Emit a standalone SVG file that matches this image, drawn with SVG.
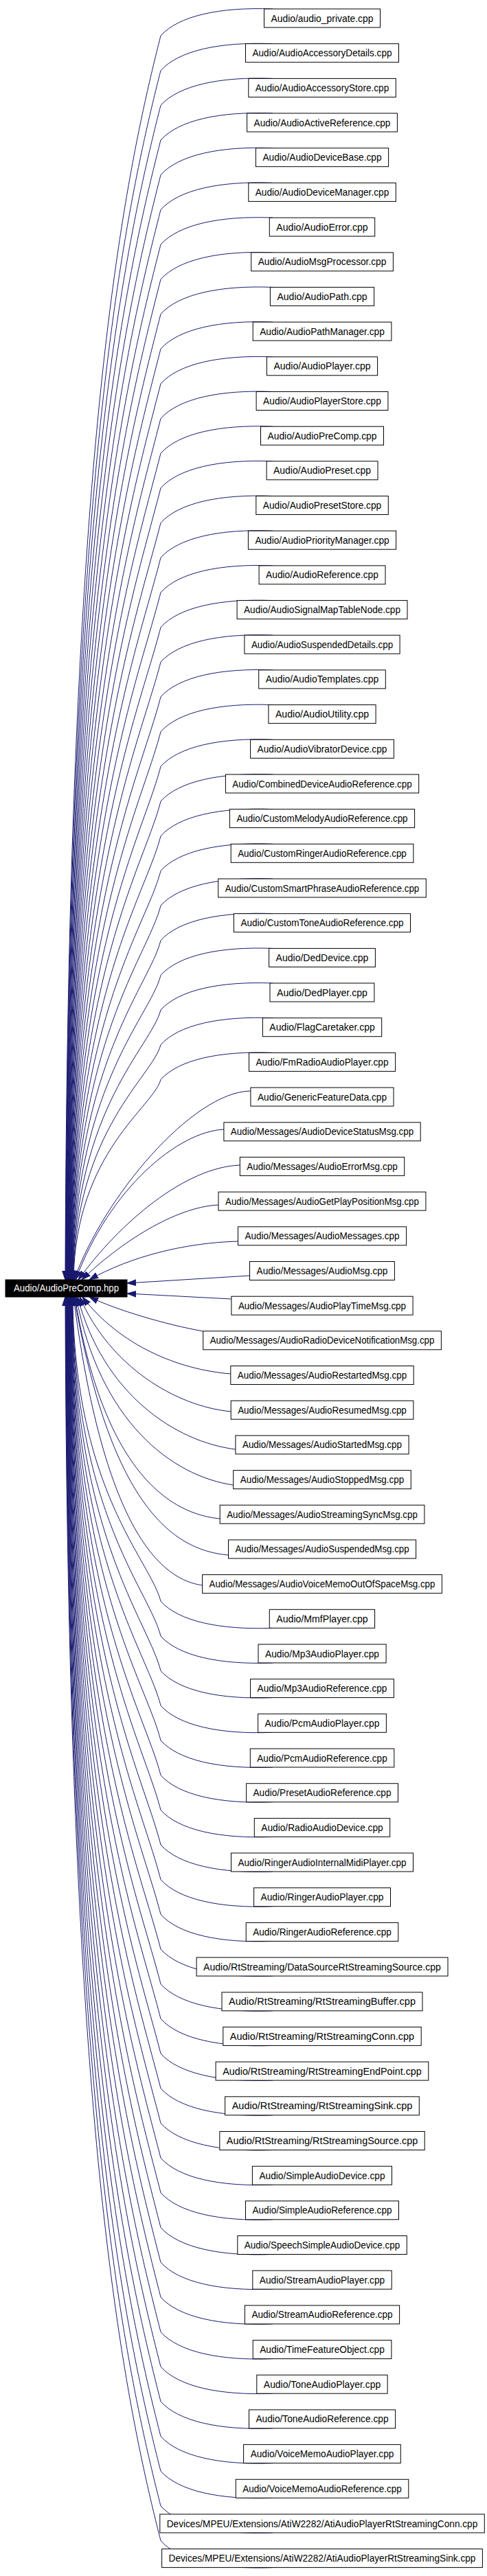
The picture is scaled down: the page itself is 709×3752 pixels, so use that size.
<svg xmlns="http://www.w3.org/2000/svg" width="709" height="3752" viewBox="0 0 709 3752">
<style>
.nd rect{fill:#fff;stroke:#000;stroke-width:1}
.nd text{font-family:"Liberation Sans",Arial,Helvetica,sans-serif;font-size:14px;fill:#000;text-anchor:middle}
.mn rect{fill:#000;stroke:#000;stroke-width:1}
.mn text{font-family:"Liberation Sans",Arial,Helvetica,sans-serif;font-size:14px;fill:#fff;text-anchor:middle}
.e path{fill:none;stroke:#191970;stroke-width:1;marker-end:url(#ah)}
</style>
<defs>
<marker id="ah" markerUnits="userSpaceOnUse" markerWidth="14" markerHeight="10" viewBox="0 -5 14 10" refX="13" refY="0" orient="auto">
<path d="M0,-4.3 L13,0 L0,4.3 z" fill="#191970" stroke="#191970" stroke-width="1"/>
</marker>
</defs>
<rect x="0" y="0" width="709" height="3752" fill="#fff"/>
<g id="edges" class="e">
<path d="M397,13 C320,10 260,23 234,52 C170.6,300.2 98,704.3 95,1864"/>
<path d="M397,63.7 C320,60.7 260,73.7 234,102.7 C172.4,344 98.4,736.8 95.4,1864"/>
<path d="M397,114.4 C320,111.4 260,124.4 234,153.4 C174.1,387.8 98.8,769.2 95.8,1864"/>
<path d="M397,165 C320,162 260,175 234,204 C175.9,431.4 99.2,801.6 96.2,1864"/>
<path d="M397,215.7 C320,212.7 260,225.7 234,254.7 C177.7,475.2 99.6,834.1 96.6,1864"/>
<path d="M397,266.4 C320,263.4 260,276.4 234,305.4 C179.4,518.9 100,866.5 97,1864"/>
<path d="M397,317.1 C320,314.1 260,327.1 234,356.1 C181.2,562.7 100.4,898.9 97.4,1864"/>
<path d="M397,367.8 C320,364.8 260,377.8 234,406.8 C183,606.4 100.8,931.4 97.8,1864"/>
<path d="M397,418.4 C320,415.4 260,428.4 234,457.4 C184.8,650.1 101.2,963.8 98.2,1864"/>
<path d="M397,469.1 C320,466.1 260,479.1 234,508.1 C186.5,693.9 101.6,996.2 98.6,1864"/>
<path d="M397,519.8 C320,516.8 260,529.8 234,558.8 C188.3,737.6 102,1028.7 99,1864"/>
<path d="M397,570.5 C320,567.5 260,580.5 234,609.5 C190.1,781.4 102.4,1061.1 99.4,1864"/>
<path d="M397,621.2 C320,618.2 260,631.2 234,660.2 C191.9,825.1 102.8,1093.5 99.8,1864"/>
<path d="M397,671.8 C320,668.8 260,681.8 234,710.8 C193.6,868.8 103.2,1126 100.2,1864"/>
<path d="M397,722.5 C320,719.5 260,732.5 234,761.5 C195.4,912.5 103.6,1158.4 100.6,1864"/>
<path d="M397,773.2 C320,770.2 260,783.2 234,812.2 C197.2,956.3 104,1190.8 101,1864"/>
<path d="M397,823.9 C320,820.9 260,833.9 234,862.9 C199,1000.1 104.4,1223.3 101.4,1864"/>
<path d="M397,874.6 C320,871.6 260,884.6 234,913.6 C200.7,1043.8 104.8,1255.7 101.8,1864"/>
<path d="M397,925.2 C320,922.2 260,935.2 234,964.2 C202.5,1087.5 105.2,1288.2 102.2,1864"/>
<path d="M397,975.9 C320,972.9 260,985.9 234,1014.9 C204.3,1131.2 105.6,1320.6 102.6,1864"/>
<path d="M397,1026.6 C320,1023.6 260,1036.6 234,1065.6 C206.1,1175 106,1353 103,1864"/>
<path d="M397,1077.3 C320,1074.3 260,1087.3 234,1116.3 C207.8,1218.7 106.4,1385.5 103.4,1864"/>
<path d="M397,1128 C320,1125 260,1138 234,1167 C209.6,1262.5 106.8,1417.9 103.8,1864"/>
<path d="M397,1178.6 C320,1175.6 260,1188.6 234,1217.6 C211.4,1306.2 107.2,1450.3 104.2,1864"/>
<path d="M397,1229.3 C320,1226.3 260,1239.3 234,1268.3 C213.2,1349.9 107.6,1482.8 104.6,1864"/>
<path d="M397,1280 C320,1277 260,1290 234,1319 C214.9,1393.7 108,1515.2 105,1864"/>
<path d="M397,1330.7 C320,1327.7 260,1340.7 234,1369.7 C216.7,1437.4 108.4,1547.6 105.4,1864"/>
<path d="M397,1381.4 C320,1378.4 260,1391.4 234,1420.4 C218.5,1481.2 108.8,1580.1 105.8,1864"/>
<path d="M397,1432 C320,1429 260,1442 234,1471 C220.2,1524.8 109.2,1612.5 106.2,1864"/>
<path d="M397,1482.7 C320,1479.7 260,1492.7 234,1521.7 C222,1568.6 109.6,1644.9 106.6,1864"/>
<path d="M397,1533.4 C320,1530.4 260,1543.4 234,1572.4 C223.8,1612.3 110,1677.4 107,1864"/>
<path d="M364.9,1589 C280,1590 150,1745 108,1864"/>
<path d="M325.9,1645 C260,1648 160,1730 110,1864"/>
<path d="M349.3,1697 C270,1700 175,1780 114,1864"/>
<path d="M318,1755 C255,1758 175,1810 119,1864"/>
<path d="M346.5,1808 C270,1810 190,1830 130,1864"/>
<path d="M363.5,1858 L185,1869"/>
<path d="M336.9,1892 L185,1884"/>
<path d="M295.7,1939 C240,1929 170,1908 130,1889"/>
<path d="M335.8,2001 C260,1995 175,1960 120,1889"/>
<path d="M336.2,2056 C255,2048 160,1990 116,1889"/>
<path d="M342.9,2111 C255,2100 150,2030 113,1889"/>
<path d="M339.7,2163 C250,2150 145,2070 111,1889"/>
<path d="M320.2,2212 C245,2205 150,2140 109,1889"/>
<path d="M332.5,2265 C250,2258 160,2190 108,1889"/>
<path d="M294.6,2309 C230,2300 150,2220 107,1889"/>
<path d="M397,2371.3 C320,2374.3 260,2361.3 234,2332.3 C218.5,2271.6 108.8,2172.7 105.8,1889"/>
<path d="M397,2422 C320,2425 260,2412 234,2383 C216.7,2315.3 108.4,2205.1 105.4,1889"/>
<path d="M397,2472.6 C320,2475.6 260,2462.6 234,2433.6 C214.9,2359 108,2237.6 105,1889"/>
<path d="M397,2523.3 C320,2526.3 260,2513.3 234,2484.3 C213.2,2402.7 107.6,2270 104.6,1889"/>
<path d="M397,2574 C320,2577 260,2564 234,2535 C211.4,2446.5 107.2,2302.4 104.2,1889"/>
<path d="M397,2624.7 C320,2627.7 260,2614.7 234,2585.7 C209.6,2490.3 106.8,2334.9 103.8,1889"/>
<path d="M397,2675.4 C320,2678.4 260,2665.4 234,2636.4 C207.8,2534 106.4,2367.3 103.4,1889"/>
<path d="M397,2726 C320,2729 260,2716 234,2687 C206.1,2577.7 106,2399.7 103,1889"/>
<path d="M397,2776.7 C320,2779.7 260,2766.7 234,2737.7 C204.3,2621.4 105.6,2432.2 102.6,1889"/>
<path d="M397,2827.4 C320,2830.4 260,2817.4 234,2788.4 C202.5,2665.2 105.2,2464.6 102.2,1889"/>
<path d="M397,2878.1 C320,2881.1 260,2868.1 234,2839.1 C200.7,2708.9 104.8,2497.1 101.8,1889"/>
<path d="M397,2928.8 C320,2931.8 260,2918.8 234,2889.8 C199,2752.7 104.4,2529.5 101.4,1889"/>
<path d="M397,2979.4 C320,2982.4 260,2969.4 234,2940.4 C197.2,2796.4 104,2561.9 101,1889"/>
<path d="M397,3030.1 C320,3033.1 260,3020.1 234,2991.1 C195.4,2840.1 103.6,2594.4 100.6,1889"/>
<path d="M397,3080.8 C320,3083.8 260,3070.8 234,3041.8 C193.7,2883.9 103.2,2626.8 100.2,1889"/>
<path d="M397,3131.5 C320,3134.5 260,3121.5 234,3092.5 C191.9,2927.6 102.8,2659.2 99.8,1889"/>
<path d="M397,3182.2 C320,3185.2 260,3172.2 234,3143.2 C190.1,2971.4 102.4,2691.7 99.4,1889"/>
<path d="M397,3232.8 C320,3235.8 260,3222.8 234,3193.8 C188.3,3015 102,2724.1 99,1889"/>
<path d="M397,3283.5 C320,3286.5 260,3273.5 234,3244.5 C186.6,3058.8 101.6,2756.5 98.6,1889"/>
<path d="M397,3334.2 C320,3337.2 260,3324.2 234,3295.2 C184.8,3102.6 101.2,2789 98.2,1889"/>
<path d="M397,3384.9 C320,3387.9 260,3374.9 234,3345.9 C183,3146.3 100.8,2821.4 97.8,1889"/>
<path d="M397,3435.6 C320,3438.6 260,3425.6 234,3396.6 C181.2,3190.1 100.4,2853.8 97.4,1889"/>
<path d="M397,3486.2 C320,3489.2 260,3476.2 234,3447.2 C179.5,3233.7 100,2886.3 97,1889"/>
<path d="M397,3536.9 C320,3539.9 260,3526.9 234,3497.9 C177.7,3277.5 99.6,2918.7 96.6,1889"/>
<path d="M397,3587.6 C320,3590.6 260,3577.6 234,3548.6 C175.9,3321.2 99.2,2951.1 96.2,1889"/>
<path d="M397,3638.3 C320,3641.3 260,3628.3 234,3599.3 C174.1,3365 98.8,2983.6 95.8,1889"/>
<path d="M397,3689 C320,3692 260,3679 234,3650 C172.4,3408.8 98.4,3016 95.4,1889"/>
<path d="M397,3739.6 C320,3742.6 260,3729.6 234,3700.6 C170.6,3452.4 98,3048.4 95,1889"/>
</g>
<g id="main" class="mn"><rect x="8" y="1864" width="177" height="25"/><text x="96.5" y="1881" textLength="153" lengthAdjust="spacingAndGlyphs">Audio/AudioPreComp.hpp</text></g>
<g id="n0" class="nd"><rect x="384.5" y="13" width="169" height="27"/><text x="469" y="31.5" textLength="149" lengthAdjust="spacingAndGlyphs">Audio/audio_private.cpp</text></g>
<g id="n1" class="nd"><rect x="357.5" y="63.7" width="223" height="27"/><text x="469" y="82.2" textLength="203" lengthAdjust="spacingAndGlyphs">Audio/AudioAccessoryDetails.cpp</text></g>
<g id="n2" class="nd"><rect x="361.8" y="114.4" width="214.5" height="27"/><text x="469" y="132.9" textLength="194.5" lengthAdjust="spacingAndGlyphs">Audio/AudioAccessoryStore.cpp</text></g>
<g id="n3" class="nd"><rect x="359.6" y="165" width="218.8" height="27"/><text x="469" y="183.5" textLength="198.8" lengthAdjust="spacingAndGlyphs">Audio/AudioActiveReference.cpp</text></g>
<g id="n4" class="nd"><rect x="372.4" y="215.7" width="193.2" height="27"/><text x="469" y="234.2" textLength="173.2" lengthAdjust="spacingAndGlyphs">Audio/AudioDeviceBase.cpp</text></g>
<g id="n5" class="nd"><rect x="361.8" y="266.4" width="214.5" height="27"/><text x="469" y="284.9" textLength="194.5" lengthAdjust="spacingAndGlyphs">Audio/AudioDeviceManager.cpp</text></g>
<g id="n6" class="nd"><rect x="392.3" y="317.1" width="153.4" height="27"/><text x="469" y="335.6" textLength="133.4" lengthAdjust="spacingAndGlyphs">Audio/AudioError.cpp</text></g>
<g id="n7" class="nd"><rect x="365.7" y="367.8" width="206.7" height="27"/><text x="469" y="386.3" textLength="186.7" lengthAdjust="spacingAndGlyphs">Audio/AudioMsgProcessor.cpp</text></g>
<g id="n8" class="nd"><rect x="393.4" y="418.4" width="151.2" height="27"/><text x="469" y="436.9" textLength="131.2" lengthAdjust="spacingAndGlyphs">Audio/AudioPath.cpp</text></g>
<g id="n9" class="nd"><rect x="368.2" y="469.1" width="201.7" height="27"/><text x="469" y="487.6" textLength="181.7" lengthAdjust="spacingAndGlyphs">Audio/AudioPathManager.cpp</text></g>
<g id="n10" class="nd"><rect x="388.4" y="519.8" width="161.2" height="27"/><text x="469" y="538.3" textLength="141.2" lengthAdjust="spacingAndGlyphs">Audio/AudioPlayer.cpp</text></g>
<g id="n11" class="nd"><rect x="373.1" y="570.5" width="191.8" height="27"/><text x="469" y="589" textLength="171.8" lengthAdjust="spacingAndGlyphs">Audio/AudioPlayerStore.cpp</text></g>
<g id="n12" class="nd"><rect x="379.5" y="621.2" width="179" height="27"/><text x="469" y="639.7" textLength="159" lengthAdjust="spacingAndGlyphs">Audio/AudioPreComp.cpp</text></g>
<g id="n13" class="nd"><rect x="388.1" y="671.8" width="161.9" height="27"/><text x="469" y="690.3" textLength="141.9" lengthAdjust="spacingAndGlyphs">Audio/AudioPreset.cpp</text></g>
<g id="n14" class="nd"><rect x="372.8" y="722.5" width="192.5" height="27"/><text x="469" y="741" textLength="172.5" lengthAdjust="spacingAndGlyphs">Audio/AudioPresetStore.cpp</text></g>
<g id="n15" class="nd"><rect x="361.4" y="773.2" width="215.2" height="27"/><text x="469" y="791.7" textLength="195.2" lengthAdjust="spacingAndGlyphs">Audio/AudioPriorityManager.cpp</text></g>
<g id="n16" class="nd"><rect x="377.1" y="823.9" width="183.9" height="27"/><text x="469" y="842.4" textLength="163.9" lengthAdjust="spacingAndGlyphs">Audio/AudioReference.cpp</text></g>
<g id="n17" class="nd"><rect x="345.1" y="874.6" width="247.9" height="27"/><text x="469" y="893.1" textLength="227.9" lengthAdjust="spacingAndGlyphs">Audio/AudioSignalMapTableNode.cpp</text></g>
<g id="n18" class="nd"><rect x="355.9" y="925.2" width="226.2" height="27"/><text x="469" y="943.7" textLength="206.2" lengthAdjust="spacingAndGlyphs">Audio/AudioSuspendedDetails.cpp</text></g>
<g id="n19" class="nd"><rect x="376.7" y="975.9" width="184.6" height="27"/><text x="469" y="994.4" textLength="164.6" lengthAdjust="spacingAndGlyphs">Audio/AudioTemplates.cpp</text></g>
<g id="n20" class="nd"><rect x="390.9" y="1026.6" width="156.2" height="27"/><text x="469" y="1045.1" textLength="136.2" lengthAdjust="spacingAndGlyphs">Audio/AudioUtility.cpp</text></g>
<g id="n21" class="nd"><rect x="364.6" y="1077.3" width="208.8" height="27"/><text x="469" y="1095.8" textLength="188.8" lengthAdjust="spacingAndGlyphs">Audio/AudioVibratorDevice.cpp</text></g>
<g id="n22" class="nd"><rect x="328.4" y="1128" width="281.3" height="27"/><text x="469" y="1146.5" textLength="261.3" lengthAdjust="spacingAndGlyphs">Audio/CombinedDeviceAudioReference.cpp</text></g>
<g id="n23" class="nd"><rect x="334.4" y="1178.6" width="269.2" height="27"/><text x="469" y="1197.1" textLength="249.2" lengthAdjust="spacingAndGlyphs">Audio/CustomMelodyAudioReference.cpp</text></g>
<g id="n24" class="nd"><rect x="336.2" y="1229.3" width="265.7" height="27"/><text x="469" y="1247.8" textLength="245.7" lengthAdjust="spacingAndGlyphs">Audio/CustomRingerAudioReference.cpp</text></g>
<g id="n25" class="nd"><rect x="317.7" y="1280" width="302.6" height="27"/><text x="469" y="1298.5" textLength="282.6" lengthAdjust="spacingAndGlyphs">Audio/CustomSmartPhraseAudioReference.cpp</text></g>
<g id="n26" class="nd"><rect x="340.4" y="1330.7" width="257.1" height="27"/><text x="469" y="1349.2" textLength="237.1" lengthAdjust="spacingAndGlyphs">Audio/CustomToneAudioReference.cpp</text></g>
<g id="n27" class="nd"><rect x="391.6" y="1381.4" width="154.8" height="27"/><text x="469" y="1399.9" textLength="134.8" lengthAdjust="spacingAndGlyphs">Audio/DedDevice.cpp</text></g>
<g id="n28" class="nd"><rect x="393" y="1432" width="151.9" height="27"/><text x="469" y="1450.5" textLength="131.9" lengthAdjust="spacingAndGlyphs">Audio/DedPlayer.cpp</text></g>
<g id="n29" class="nd"><rect x="382.4" y="1482.7" width="173.3" height="27"/><text x="469" y="1501.2" textLength="153.3" lengthAdjust="spacingAndGlyphs">Audio/FlagCaretaker.cpp</text></g>
<g id="n30" class="nd"><rect x="362.5" y="1533.4" width="213.1" height="27"/><text x="469" y="1551.9" textLength="193.1" lengthAdjust="spacingAndGlyphs">Audio/FmRadioAudioPlayer.cpp</text></g>
<g id="n31" class="nd"><rect x="364.9" y="1584.1" width="208.1" height="27"/><text x="469" y="1602.6" textLength="188.1" lengthAdjust="spacingAndGlyphs">Audio/GenericFeatureData.cpp</text></g>
<g id="n32" class="nd"><rect x="325.9" y="1634.8" width="286.3" height="27"/><text x="469" y="1653.3" textLength="266.3" lengthAdjust="spacingAndGlyphs">Audio/Messages/AudioDeviceStatusMsg.cpp</text></g>
<g id="n33" class="nd"><rect x="349.3" y="1685.4" width="239.4" height="27"/><text x="469" y="1703.9" textLength="219.4" lengthAdjust="spacingAndGlyphs">Audio/Messages/AudioErrorMsg.cpp</text></g>
<g id="n34" class="nd"><rect x="318" y="1736.1" width="301.9" height="27"/><text x="469" y="1754.6" textLength="281.9" lengthAdjust="spacingAndGlyphs">Audio/Messages/AudioGetPlayPositionMsg.cpp</text></g>
<g id="n35" class="nd"><rect x="346.5" y="1786.8" width="245.1" height="27"/><text x="469" y="1805.3" textLength="225.1" lengthAdjust="spacingAndGlyphs">Audio/Messages/AudioMessages.cpp</text></g>
<g id="n36" class="nd"><rect x="363.5" y="1837.5" width="210.9" height="27"/><text x="469" y="1856" textLength="190.9" lengthAdjust="spacingAndGlyphs">Audio/Messages/AudioMsg.cpp</text></g>
<g id="n37" class="nd"><rect x="336.9" y="1888.2" width="264.2" height="27"/><text x="469" y="1906.7" textLength="244.2" lengthAdjust="spacingAndGlyphs">Audio/Messages/AudioPlayTimeMsg.cpp</text></g>
<g id="n38" class="nd"><rect x="295.7" y="1938.8" width="346.7" height="27"/><text x="469" y="1957.3" textLength="326.7" lengthAdjust="spacingAndGlyphs">Audio/Messages/AudioRadioDeviceNotificationMsg.cpp</text></g>
<g id="n39" class="nd"><rect x="335.8" y="1989.5" width="266.4" height="27"/><text x="469" y="2008" textLength="246.4" lengthAdjust="spacingAndGlyphs">Audio/Messages/AudioRestartedMsg.cpp</text></g>
<g id="n40" class="nd"><rect x="336.2" y="2040.2" width="265.7" height="27"/><text x="469" y="2058.7" textLength="245.7" lengthAdjust="spacingAndGlyphs">Audio/Messages/AudioResumedMsg.cpp</text></g>
<g id="n41" class="nd"><rect x="342.9" y="2090.9" width="252.2" height="27"/><text x="469" y="2109.4" textLength="232.2" lengthAdjust="spacingAndGlyphs">Audio/Messages/AudioStartedMsg.cpp</text></g>
<g id="n42" class="nd"><rect x="339.7" y="2141.6" width="258.6" height="27"/><text x="469" y="2160.1" textLength="238.6" lengthAdjust="spacingAndGlyphs">Audio/Messages/AudioStoppedMsg.cpp</text></g>
<g id="n43" class="nd"><rect x="320.2" y="2192.2" width="297.7" height="27"/><text x="469" y="2210.7" textLength="277.7" lengthAdjust="spacingAndGlyphs">Audio/Messages/AudioStreamingSyncMsg.cpp</text></g>
<g id="n44" class="nd"><rect x="332.5" y="2242.9" width="273.1" height="27"/><text x="469" y="2261.4" textLength="253.1" lengthAdjust="spacingAndGlyphs">Audio/Messages/AudioSuspendedMsg.cpp</text></g>
<g id="n45" class="nd"><rect x="294.6" y="2293.6" width="348.8" height="27"/><text x="469" y="2312.1" textLength="328.8" lengthAdjust="spacingAndGlyphs">Audio/Messages/AudioVoiceMemoOutOfSpaceMsg.cpp</text></g>
<g id="n46" class="nd"><rect x="392.3" y="2344.3" width="153.3" height="27"/><text x="469" y="2362.8" textLength="133.3" lengthAdjust="spacingAndGlyphs">Audio/MmfPlayer.cpp</text></g>
<g id="n47" class="nd"><rect x="376" y="2395" width="186.1" height="27"/><text x="469" y="2413.5" textLength="166.1" lengthAdjust="spacingAndGlyphs">Audio/Mp3AudioPlayer.cpp</text></g>
<g id="n48" class="nd"><rect x="364.6" y="2445.6" width="208.8" height="27"/><text x="469" y="2464.1" textLength="188.8" lengthAdjust="spacingAndGlyphs">Audio/Mp3AudioReference.cpp</text></g>
<g id="n49" class="nd"><rect x="375.6" y="2496.3" width="186.8" height="27"/><text x="469" y="2514.8" textLength="166.8" lengthAdjust="spacingAndGlyphs">Audio/PcmAudioPlayer.cpp</text></g>
<g id="n50" class="nd"><rect x="364.3" y="2547" width="209.5" height="27"/><text x="469" y="2565.5" textLength="189.5" lengthAdjust="spacingAndGlyphs">Audio/PcmAudioReference.cpp</text></g>
<g id="n51" class="nd"><rect x="358.6" y="2597.7" width="220.9" height="27"/><text x="469" y="2616.2" textLength="200.9" lengthAdjust="spacingAndGlyphs">Audio/PresetAudioReference.cpp</text></g>
<g id="n52" class="nd"><rect x="370.3" y="2648.4" width="197.4" height="27"/><text x="469" y="2666.9" textLength="177.4" lengthAdjust="spacingAndGlyphs">Audio/RadioAudioDevice.cpp</text></g>
<g id="n53" class="nd"><rect x="336.5" y="2699" width="265" height="27"/><text x="469" y="2717.5" textLength="245" lengthAdjust="spacingAndGlyphs">Audio/RingerAudioInternalMidiPlayer.cpp</text></g>
<g id="n54" class="nd"><rect x="369.6" y="2749.7" width="198.9" height="27"/><text x="469" y="2768.2" textLength="178.9" lengthAdjust="spacingAndGlyphs">Audio/RingerAudioPlayer.cpp</text></g>
<g id="n55" class="nd"><rect x="358.2" y="2800.4" width="221.6" height="27"/><text x="469" y="2818.9" textLength="201.6" lengthAdjust="spacingAndGlyphs">Audio/RingerAudioReference.cpp</text></g>
<g id="n56" class="nd"><rect x="286.1" y="2851.1" width="365.9" height="27"/><text x="469" y="2869.6" textLength="345.9" lengthAdjust="spacingAndGlyphs">Audio/RtStreaming/DataSourceRtStreamingSource.cpp</text></g>
<g id="n57" class="nd"><rect x="323" y="2901.8" width="292" height="27"/><text x="469" y="2920.3" textLength="272" lengthAdjust="spacingAndGlyphs">Audio/RtStreaming/RtStreamingBuffer.cpp</text></g>
<g id="n58" class="nd"><rect x="324.8" y="2952.4" width="288.4" height="27"/><text x="469" y="2970.9" textLength="268.4" lengthAdjust="spacingAndGlyphs">Audio/RtStreaming/RtStreamingConn.cpp</text></g>
<g id="n59" class="nd"><rect x="314.1" y="3003.1" width="309.7" height="27"/><text x="469" y="3021.6" textLength="289.7" lengthAdjust="spacingAndGlyphs">Audio/RtStreaming/RtStreamingEndPoint.cpp</text></g>
<g id="n60" class="nd"><rect x="327.6" y="3053.8" width="282.7" height="27"/><text x="469" y="3072.3" textLength="262.7" lengthAdjust="spacingAndGlyphs">Audio/RtStreaming/RtStreamingSink.cpp</text></g>
<g id="n61" class="nd"><rect x="319.8" y="3104.5" width="298.4" height="27"/><text x="469" y="3123" textLength="278.4" lengthAdjust="spacingAndGlyphs">Audio/RtStreaming/RtStreamingSource.cpp</text></g>
<g id="n62" class="nd"><rect x="367.4" y="3155.2" width="203.1" height="27"/><text x="469" y="3173.7" textLength="183.1" lengthAdjust="spacingAndGlyphs">Audio/SimpleAudioDevice.cpp</text></g>
<g id="n63" class="nd"><rect x="357.5" y="3205.8" width="223" height="27"/><text x="469" y="3224.3" textLength="203" lengthAdjust="spacingAndGlyphs">Audio/SimpleAudioReference.cpp</text></g>
<g id="n64" class="nd"><rect x="345.8" y="3256.5" width="246.5" height="27"/><text x="469" y="3275" textLength="226.5" lengthAdjust="spacingAndGlyphs">Audio/SpeechSimpleAudioDevice.cpp</text></g>
<g id="n65" class="nd"><rect x="367.8" y="3307.2" width="202.4" height="27"/><text x="469" y="3325.7" textLength="182.4" lengthAdjust="spacingAndGlyphs">Audio/StreamAudioPlayer.cpp</text></g>
<g id="n66" class="nd"><rect x="356.4" y="3357.9" width="225.2" height="27"/><text x="469" y="3376.4" textLength="205.2" lengthAdjust="spacingAndGlyphs">Audio/StreamAudioReference.cpp</text></g>
<g id="n67" class="nd"><rect x="368.2" y="3408.6" width="201.7" height="27"/><text x="469" y="3427.1" textLength="181.7" lengthAdjust="spacingAndGlyphs">Audio/TimeFeatureObject.cpp</text></g>
<g id="n68" class="nd"><rect x="373.8" y="3459.2" width="190.3" height="27"/><text x="469" y="3477.7" textLength="170.3" lengthAdjust="spacingAndGlyphs">Audio/ToneAudioPlayer.cpp</text></g>
<g id="n69" class="nd"><rect x="362.5" y="3509.9" width="213.1" height="27"/><text x="469" y="3528.4" textLength="193.1" lengthAdjust="spacingAndGlyphs">Audio/ToneAudioReference.cpp</text></g>
<g id="n70" class="nd"><rect x="354.6" y="3560.6" width="228.7" height="27"/><text x="469" y="3579.1" textLength="208.7" lengthAdjust="spacingAndGlyphs">Audio/VoiceMemoAudioPlayer.cpp</text></g>
<g id="n71" class="nd"><rect x="343.3" y="3611.3" width="251.5" height="27"/><text x="469" y="3629.8" textLength="231.5" lengthAdjust="spacingAndGlyphs">Audio/VoiceMemoAudioReference.cpp</text></g>
<g id="n72" class="nd"><rect x="232.8" y="3662" width="472.5" height="27"/><text x="469" y="3680.5" textLength="452.5" lengthAdjust="spacingAndGlyphs">Devices/MPEU/Extensions/AtiW2282/AtiAudioPlayerRtStreamingConn.cpp</text></g>
<g id="n73" class="nd"><rect x="235.6" y="3712.6" width="466.8" height="27"/><text x="469" y="3731.1" textLength="446.8" lengthAdjust="spacingAndGlyphs">Devices/MPEU/Extensions/AtiW2282/AtiAudioPlayerRtStreamingSink.cpp</text></g>
</svg>
